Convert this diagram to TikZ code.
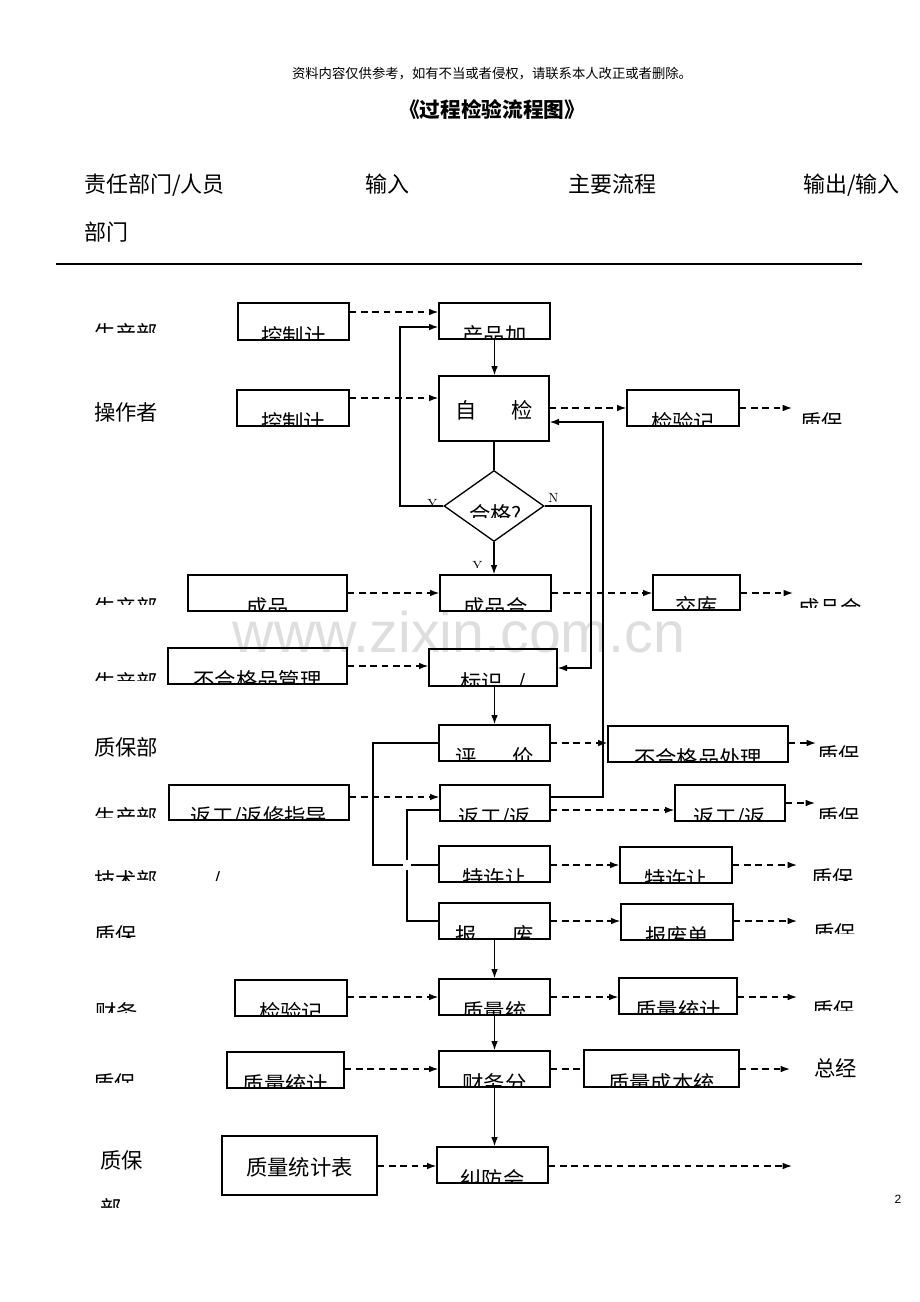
\documentclass[tikz,border=0pt]{standalone}
\usepackage{fontspec}
\setsansfont{Liberation Sans}
\newfontfamily\cjk{Noto Sans CJK SC}
\usetikzlibrary{arrows.meta,shapes.geometric,fit}

\tikzset{
  box/.style={draw, line width=1pt, inner sep=0pt},
  boxtxt/.style={font=\cjk\fontsize{16}{19}\selectfont, inner sep=0pt},
  cut/.style={path picture={\node[boxtxt, anchor=base] at ([yshift=-3.4pt]path picture bounding box.south) {#1};}},
  mid/.style={path picture={\node[boxtxt, anchor=base] at ([yshift=-7.5pt]path picture bounding box.center) {#1};}},
  lbl/.style={font=\cjk\fontsize{16}{19}\selectfont, inner sep=0pt},
  hdr/.style={font=\cjk\fontsize{16.5}{20}\selectfont, inner sep=0pt, anchor=base west},
  ln/.style={line width=1pt},
  dsh/.style={line width=1pt, dash pattern=on 5pt off 3.5pt},
  wmark/.style={font=\sffamily\fontsize{43}{43}\selectfont, text=black!13, inner sep=0pt},
}

% text cut off at a given height: name, x, baseline, clip line, text
\newcommand{\cutlbl}[5]{%
  \begin{scope}
    \clip (#2-10,#4-40) rectangle (#2+160,#4);
    \node[lbl, anchor=base west] (#1) at (#2,#3) {#5};
  \end{scope}}

\begin{document}
\begin{tikzpicture}[x=0.75pt, y=-0.75pt, >={Latex[length=7pt,width=5pt]}]
\useasboundingbox (0,0) rectangle (920,1302);

\node[wmark, anchor=base] (wm) at (459,652) {www.zixin.com.cn};

% header
\node[anchor=base, font=\cjk\fontsize{10}{12}\selectfont, inner sep=0pt] (note) at (492,79) {资料内容仅供参考，如有不当或者侵权，请联系本人改正或者删除。};
\node[anchor=base, font=\cjk\bfseries\fontsize{15.5}{19}\selectfont, inner sep=0pt] (title) at (492,118) {《过程检验流程图》};
\node[hdr] (h1) at (84,192) {责任部门/人员};
\node[hdr] (h2) at (365,192) {输入};
\node[hdr] (h3) at (568,192) {主要流程};
\node[hdr] (h4) at (803,192) {输出/输入};
\node[hdr] (h5) at (84,240) {部门};
\draw[line width=0.8pt] (56,264) -- (862,264);

% left column
\cutlbl{d1}{94}{341}{332}{生产部}
\node[lbl, anchor=base west] (d2) at (94,420) {操作者};
\cutlbl{d3}{94}{615}{604}{生产部}
\cutlbl{d4}{94}{690}{680}{生产部}
\node[lbl, anchor=base west] (d5) at (94,755) {质保部};
\cutlbl{d6}{94}{825}{817}{生产部}
\cutlbl{d7}{94}{888}{880}{技术部\hspace{41pt}/}
\cutlbl{d8}{94}{943}{937}{质保}
\cutlbl{d9}{95}{1020}{1012}{财务}
\cutlbl{d10}{93}{1091}{1082}{质保}
\node[lbl, anchor=base west] (d11) at (100,1168) {质保};
\cutlbl{d12}{100}{1216}{1207}{部}

% inputs
\node[box, fit={(238,303) (349,340)}, cut={控制计}] (in1) {};
\node[box, fit={(237,390) (349,426)}, cut={控制计}] (in2) {};
\node[box, fit={(188,575) (347,611)}, cut={成品\hspace{18pt}}] (in3) {};
\node[box, fit={(168,648) (347,684)}, cut={不合格品管理}] (in4) {};
\node[box, fit={(169,785) (349,820)}, cut={返工/返修指导}] (in5) {};
\node[box, fit={(235,980) (347,1016)}, cut={检验记}] (in6) {};
\node[box, fit={(227,1052) (344,1088)}, cut={质量统计}] (in7) {};
\node[box, fit={(222,1136) (377,1195)}, mid={质量统计表}] (in8) {};

% main flow
\node[box, fit={(439,303) (550,339)}, cut={产品加}] (jg) {};
\node[box, fit={(439,376) (549,441)}, mid={自\hspace{1.65em}检}] (zj) {};
\node[draw, diamond, line width=1pt, minimum width=75pt, minimum height=53.25pt, inner sep=0pt] (hg) at (494,506) {};
\cutlbl{hgt}{469}{522}{517}{合格?}
\node[box, fit={(440,575) (551,611)}, cut={成品合}] (cp) {};
\node[box, fit={(429,649) (557,686)}, cut={标识\hspace{0.7em}/}] (bs) {};
\node[box, fit={(439,725) (550,761)}, cut={评\hspace{1.65em}价}] (pj) {};
\node[box, fit={(440,785) (550,821)}, cut={返工/返}] (fg) {};
\node[box, fit={(439,846) (550,882)}, cut={特许让}] (tx) {};
\node[box, fit={(439,903) (550,939)}, cut={报\hspace{1.65em}废}] (bf) {};
\node[box, fit={(439,979) (550,1015)}, cut={质量统}] (tj) {};
\node[box, fit={(439,1051) (550,1087)}, cut={财务分}] (cw) {};
\node[box, fit={(437,1147) (548,1183)}, cut={纠防会}] (jf) {};

% outputs
\node[box, fit={(627,390) (739,426)}, cut={检验记}] (out1) {};
\node[box, fit={(653,575) (740,610)}, cut={交库\hspace{12pt}}] (out2) {};
\node[box, fit={(608,726) (788,762)}, cut={不合格品处理}] (out3) {};
\node[box, fit={(675,785) (785,821)}, cut={返工/返}] (out4) {};
\node[box, fit={(620,847) (732,883)}, cut={特许让}] (out5) {};
\node[box, fit={(621,904) (733,940)}, cut={报废单}] (out6) {};
\node[box, fit={(619,978) (737,1014)}, cut={质量统计}] (out7) {};
\node[box, fit={(584,1050) (739,1087)}, cut={质量成本统}] (out8) {};

% right column
\cutlbl{r1}{800}{430}{423}{质保}
\cutlbl{r2}{798}{616}{607}{成品合}
\cutlbl{r3}{817}{763}{756}{质保}
\cutlbl{r4}{817}{825}{818}{质保}
\cutlbl{r5}{811}{886}{880}{质保}
\cutlbl{r6}{813}{941}{933}{质保}
\cutlbl{r7}{812}{1018}{1010}{质保}
\node[lbl, anchor=base west] (r8) at (814,1076) {总经};

\coordinate (e1) at (792,408);
\coordinate (e2) at (793,593);
\coordinate (e3) at (816,743);
\coordinate (e4) at (815,803);
\coordinate (e5) at (797,865);
\coordinate (e6) at (797,921);
\coordinate (e7) at (797,997);
\coordinate (e8) at (790,1069);
\coordinate (e9) at (792,1166);

% Y / N
\cutlbl{yl}{427}{508}{504.5}{\rmfamily\fontsize{10}{12}\selectfont Y}
\cutlbl{yb}{472}{570}{567.5}{\rmfamily\fontsize{10}{12}\selectfont Y}
\node[anchor=base west, inner sep=0pt, font=\rmfamily\fontsize{10}{12}\selectfont] (nl) at (548,502) {N};

% solid flow
\draw[ln,->] (jg.south) -- (jg.south |- zj.north);
\draw[ln] (zj.south) -- (hg.north);
\draw[ln,->] (hg.west) -| (400,327) -- (jg.west |- 0,327);
\draw[ln,->] (hg.east) -| (591,668) -- (bs.east |- 0,668);
\draw[ln,->] (hg.south) -- (hg.south |- cp.north);
\draw[ln,->] (pj.north |- bs.south) -- (pj.north);
\draw[ln] (pj.west) -| (373,865) -- (tx.west |- 0,865);
\draw[ln] (fg.west |- 0,810) -| (407,921) -- (bf.west |- 0,921);
\fill[white] (403,860) rectangle (411,870);
\draw[ln,->] (fg.east |- 0,797) -| (603,422) -- (zj.east |- 0,422);
\draw[ln,->] (bf.south) -- (tj.north);
\draw[ln,->] (tj.south) -- (cw.north);
\draw[ln,->] (cw.south) -- (cw.south |- jf.north);

% dashed inputs
\draw[dsh,->] (in1.east |- 0,312) -- (jg.west |- 0,312);
\draw[dsh,->] (in2.east |- 0,398) -- (zj.west |- 0,398);
\draw[dsh,->] (in3.east |- 0,593) -- (cp.west |- 0,593);
\draw[dsh,->] (in4.east |- 0,666) -- (bs.west |- 0,666);
\draw[dsh,->] (in5.east |- 0,797) -- (fg.west |- 0,797);
\draw[dsh,->] (in6.east |- 0,997) -- (tj.west |- 0,997);
\draw[dsh,->] (in7.east |- 0,1069) -- (cw.west |- 0,1069);
\draw[dsh,->] (in8.east |- 0,1166) -- (jf.west |- 0,1166);

% dashed outputs
\draw[dsh,->] (zj.east |- 0,408) -- (out1.west |- 0,408);
\draw[dsh,->] (out1.east |- 0,408) -- (e1);
\draw[dsh,->] (cp.east |- 0,593) -- (out2.west |- 0,593);
\draw[dsh,->] (out2.east |- 0,593) -- (e2);
\draw[dsh,->] (pj.east |- 0,743) -- (out3.west |- 0,743);
\draw[dsh,->] (out3.east |- 0,743) -- (e3);
\draw[dsh,->] (fg.east |- 0,810) -- (out4.west |- 0,810);
\draw[dsh,->] (out4.east |- 0,803) -- (e4);
\draw[dsh,->] (tx.east |- 0,865) -- (out5.west |- 0,865);
\draw[dsh,->] (out5.east |- 0,865) -- (e5);
\draw[dsh,->] (bf.east |- 0,921) -- (out6.west |- 0,921);
\draw[dsh,->] (out6.east |- 0,921) -- (e6);
\draw[dsh,->] (tj.east |- 0,997) -- (out7.west |- 0,997);
\draw[dsh,->] (out7.east |- 0,997) -- (e7);
\draw[dsh] (cw.east |- 0,1069) -- (out8.west |- 0,1069);
\draw[dsh,->] (out8.east |- 0,1069) -- (e8);
\draw[dsh,->] (jf.east |- 0,1166) -- (e9);

\node[anchor=base, inner sep=0pt, font=\sffamily\fontsize{9}{10}\selectfont] (pg) at (898,1203) {2};
\end{tikzpicture}
\end{document}
